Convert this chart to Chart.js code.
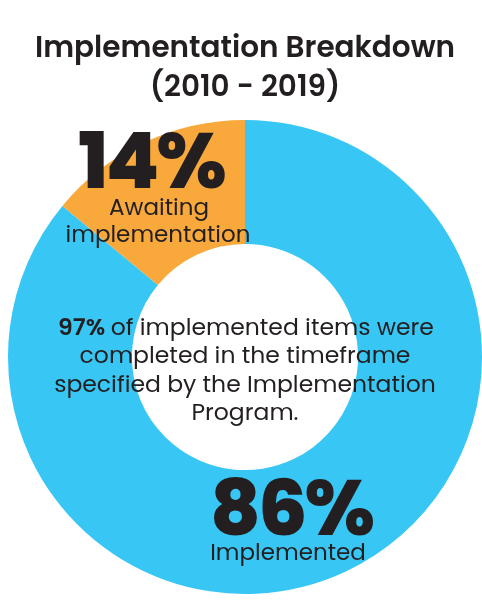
<!DOCTYPE html>
<html>
<head>
<meta charset="utf-8">
<script src="https://cdn.jsdelivr.net/npm/chart.js@4.4.0/dist/chart.umd.min.js"></script>
<style>
  html, body { margin: 0; background: #fff; }
  #wrap { width: 482px; height: 602px; position: relative; }
</style>
</head>
<body>
<div id="wrap"><canvas id="chart"></canvas></div>
<script>
const labels      = ['Implemented', 'Awaiting implementation'];
const shares      = [86, 14];
const sliceColors = ['#38C6F4', '#F9A93B'];
const titleLines  = ['Implementation Breakdown', '(2010 - 2019)'];
const onTimeShare = 97;
const centerNote  = ['of implemented items were', 'completed in the timeframe', 'specified by the Implementation', 'Program.'];

const FONT = "'Poppins', 'Inter', sans-serif";
const INK  = '#231F20';

// all text drawn on the canvas, placed relative to the doughnut centre
const textPlugin = {
  id: 'textPlugin',
  afterDraw(chart) {
    const ctx = chart.ctx;
    const arc = chart.getDatasetMeta(0).data[0];
    const cx = arc.x, cy = arc.y;
    ctx.save();
    ctx.fillStyle = INK;
    ctx.textAlign = 'center';
    ctx.textBaseline = 'alphabetic';

    // title
    ctx.font = `600 29.5px ${FONT}`;
    ctx.fillText(titleLines[0], 245, 57);
    ctx.fillText(titleLines[1], 245, 96);

    // big percentages
    ctx.font = `800 78px ${FONT}`;
    ctx.letterSpacing = '-3px';
    ctx.fillText(shares[1] + '%', cx - 94, cy - 169);
    ctx.fillText(shares[0] + '%', cx + 46, cy + 178);
    ctx.letterSpacing = '0px';

    ctx.font = `400 23px ${FONT}`;
    const aw = labels[1].split(' ');
    ctx.fillText(aw[0].charAt(0).toUpperCase() + aw[0].slice(1), cx - 86, cy - 142);
    ctx.fillText(aw[1], cx - 87, cy - 115);
    ctx.fillText(labels[0], cx + 43, cy + 203);

    // centre note, first line has a bold lead
    const sz = 23.5;
    const lead = onTimeShare + '% ';
    ctx.font = `600 ${sz}px ${FONT}`;
    const wLead = ctx.measureText(lead).width;
    ctx.font = `400 ${sz}px ${FONT}`;
    const wRest = ctx.measureText(centerNote[0]).width;
    let x0 = cx + 1 - (wLead + wRest) / 2;
    ctx.textAlign = 'left';
    ctx.font = `600 ${sz}px ${FONT}`;
    ctx.fillText(lead, x0, cy - 22);
    ctx.font = `400 ${sz}px ${FONT}`;
    ctx.fillText(centerNote[0], x0 + wLead, cy - 22);
    ctx.textAlign = 'center';
    const base = [cy + 6, cy + 35, cy + 63];
    for (let i = 1; i < centerNote.length; i++) {
      ctx.fillText(centerNote[i], cx, base[i - 1]);
    }
    ctx.restore();
  }
};

new Chart(document.getElementById('chart'), {
  type: 'doughnut',
  data: {
    labels,
    datasets: [{
      data: shares,
      backgroundColor: sliceColors,
      borderWidth: 0,
      hoverOffset: 0,
    }],
  },
  options: {
    responsive: true, maintainAspectRatio: false, animation: false,
    cutout: '47.7%',
    layout: { padding: { top: 120, bottom: 8, left: 8, right: 0 } },
    plugins: {
      legend: { display: false },
      tooltip: { enabled: false },
      title: { display: false },
    },
  },
  plugins: [textPlugin],
});
</script>
</body>
</html>
